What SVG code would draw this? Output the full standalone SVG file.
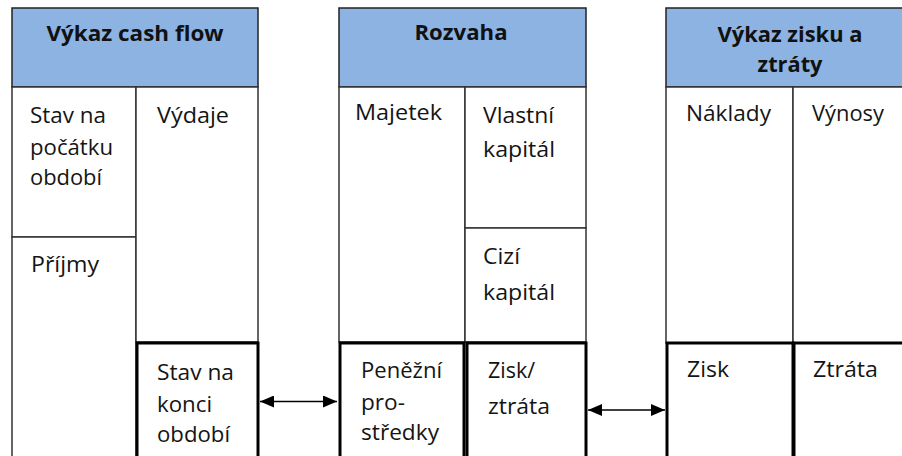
<svg xmlns="http://www.w3.org/2000/svg" width="902" height="456" viewBox="0 0 902 456">
<defs>
<style>
.hdr{fill:#8DB3E2;stroke:#222;stroke-width:1.5}
.cell{fill:#fff;stroke:#333;stroke-width:1.5}
.thick{fill:#fff;stroke:#000;stroke-width:3}
.t{font-family:"Open Sans","Noto Sans",sans-serif;font-size:21px;fill:#141414}
.h{font-family:"Open Sans","Noto Sans",sans-serif;font-size:20.5px;font-weight:bold;fill:#111;text-anchor:middle}
.conn{stroke:#000;stroke-width:1.6;fill:none}
</style>
<marker id="ah" viewBox="0 0 10 10" refX="10" refY="5" markerWidth="14" markerHeight="12" orient="auto-start-reverse" markerUnits="userSpaceOnUse" preserveAspectRatio="none">
<path d="M0,0 L10,5 L0,10 z" fill="#000"/>
</marker>
</defs>
<rect width="902" height="456" fill="#fff"/>

<g id="cashflow">
<rect class="hdr" x="12" y="8" width="246" height="79"/>
<text class="h" x="135" y="41" textLength="177" lengthAdjust="spacingAndGlyphs">Výkaz cash flow</text>
<rect class="cell" x="12" y="87" width="124" height="150"/>
<rect class="cell" x="12" y="237" width="124" height="225"/>
<rect class="cell" x="136" y="87" width="122" height="255"/>
<text class="t" x="30" y="123" textLength="76" lengthAdjust="spacingAndGlyphs">Stav na</text>
<text class="t" x="30" y="155" textLength="83" lengthAdjust="spacingAndGlyphs">počátku</text>
<text class="t" x="30" y="185" textLength="72" lengthAdjust="spacingAndGlyphs">období</text>
<text class="t" x="157" y="123" textLength="72" lengthAdjust="spacingAndGlyphs">Výdaje</text>
<text class="t" x="31" y="272" textLength="68" lengthAdjust="spacingAndGlyphs">Příjmy</text>
</g>
<g id="cf-end">
<rect class="thick" x="137" y="343" width="121" height="120"/>
<text class="t" x="157" y="380" textLength="77" lengthAdjust="spacingAndGlyphs">Stav na</text>
<text class="t" x="157" y="412" textLength="55" lengthAdjust="spacingAndGlyphs">konci</text>
<text class="t" x="157" y="442" textLength="73" lengthAdjust="spacingAndGlyphs">období</text>
</g>

<g id="rozvaha">
<rect class="hdr" x="339" y="8" width="247" height="79"/>
<text class="h" x="461" y="40" textLength="93" lengthAdjust="spacingAndGlyphs">Rozvaha</text>
<rect class="cell" x="339" y="87" width="126" height="255"/>
<rect class="cell" x="465" y="87" width="121" height="141"/>
<rect class="cell" x="465" y="228" width="121" height="114"/>
<text class="t" x="355" y="120" textLength="87" lengthAdjust="spacingAndGlyphs">Majetek</text>
<text class="t" x="483" y="123" textLength="71" lengthAdjust="spacingAndGlyphs">Vlastní</text>
<text class="t" x="483" y="157" textLength="72" lengthAdjust="spacingAndGlyphs">kapitál</text>
<text class="t" x="483" y="264" textLength="37" lengthAdjust="spacingAndGlyphs">Cizí</text>
<text class="t" x="483" y="300" textLength="72" lengthAdjust="spacingAndGlyphs">kapitál</text>
</g>
<g id="penezni">
<rect class="thick" x="340" y="343" width="124" height="120"/>
<text class="t" x="361" y="378" textLength="81" lengthAdjust="spacingAndGlyphs">Peněžní</text>
<text class="t" x="361" y="410" textLength="44" lengthAdjust="spacingAndGlyphs">pro-</text>
<text class="t" x="361" y="440" textLength="78" lengthAdjust="spacingAndGlyphs">středky</text>
</g>
<g id="zisk-ztrata">
<rect class="thick" x="467" y="343" width="119" height="120"/>
<text class="t" x="488" y="378" textLength="47" lengthAdjust="spacingAndGlyphs">Zisk/</text>
<text class="t" x="488" y="414" textLength="62" lengthAdjust="spacingAndGlyphs">ztráta</text>
</g>

<g id="vzz">
<rect class="hdr" x="666" y="8" width="247" height="79"/>
<text class="h" x="790" y="42" textLength="145" lengthAdjust="spacingAndGlyphs">Výkaz zisku a</text>
<text class="h" x="790" y="72" textLength="65" lengthAdjust="spacingAndGlyphs">ztráty</text>
<rect class="cell" x="666" y="87" width="127" height="256"/>
<rect class="cell" x="793" y="87" width="120" height="256"/>
<text class="t" x="686" y="121" textLength="85" lengthAdjust="spacingAndGlyphs">Náklady</text>
<text class="t" x="812" y="121" textLength="72" lengthAdjust="spacingAndGlyphs">Výnosy</text>
</g>
<g id="zisk">
<rect class="thick" x="667" y="343" width="126" height="120"/>
<text class="t" x="687" y="377" textLength="42" lengthAdjust="spacingAndGlyphs">Zisk</text>
</g>
<g id="ztrata">
<rect class="thick" x="794" y="343" width="120" height="120"/>
<text class="t" x="813" y="377" textLength="65" lengthAdjust="spacingAndGlyphs">Ztráta</text>
</g>

<g id="connectors">
<line class="conn" x1="260" y1="401.5" x2="337" y2="401.5" marker-start="url(#ah)" marker-end="url(#ah)"/>
<line class="conn" x1="588" y1="410" x2="665" y2="410" marker-start="url(#ah)" marker-end="url(#ah)"/>
</g>
</svg>
